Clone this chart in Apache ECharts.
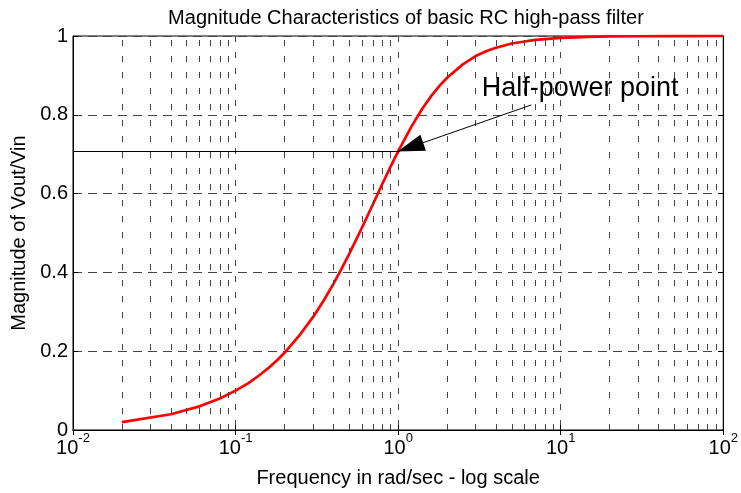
<!DOCTYPE html>
<html><head><meta charset="utf-8">
<script src="https://cdn.jsdelivr.net/npm/echarts@6/dist/echarts.min.js"></script>
<style>html,body{margin:0;padding:0;background:#fff}#c{width:741px;height:493px}</style>
</head><body><div id="c"></div>
<script>
// ---- data ----
const freq = [0.02,0.04,0.06,0.08,0.1,0.12,0.14,0.16,0.18,0.2,0.25,0.3,0.35,0.4,0.45,0.5,0.6,0.7,0.8,0.9,1,1.2,1.4,1.6,1.8,2,2.5,3,3.5,4,5,6,7,8,10,15,20,30,50,100];
const magnitude = [0.020,0.040,0.060,0.080,0.100,0.119,0.139,0.158,0.177,0.196,0.243,0.287,0.330,0.371,0.410,0.447,0.514,0.573,0.625,0.669,0.707,0.768,0.814,0.848,0.874,0.894,0.928,0.949,0.962,0.970,0.981,0.986,0.990,0.992,0.995,0.998,0.999,0.9994,0.9998,1.0];
const minorGridX = [0.02,0.03,0.04,0.05,0.06,0.07,0.08,0.09,0.2,0.3,0.4,0.5,0.6,0.7,0.8,0.9,2,3,4,5,6,7,8,9,20,30,40,50,60,70,80,90];
const halfPowerPoint = [1, 0.7071];
const arrowStart = [6.6, 0.825];
const annotationAnchor = [3.25, 0.866];
const annotationText = 'Half-power point';
const titleText = 'Magnitude Characteristics of basic RC high-pass filter';
const xName = 'Frequency in rad/sec - log scale';
const yName = 'Magnitude of Vout/Vin';

const FONT = "'Liberation Sans', Arial, Helvetica, sans-serif";
const chart = echarts.init(document.getElementById('c'), null, {renderer: 'canvas'});
const vDash = {type: [6, 10], color: '#444', width: 1};
const hDash = {type: [9, 6], color: '#444', width: 1};

const option = {
  animation: false,
  backgroundColor: '#fff',
  title: {
    text: titleText, left: 401, top: 3, textAlign: 'center',
    textStyle: {fontSize: 20, fontWeight: 'normal', color: '#000', fontFamily: FONT}
  },
  grid: {left: 73, right: 12, top: 36, bottom: 61, show: true, borderColor: '#000', borderWidth: 1, backgroundColor: '#fff'},
  xAxis: [{
    type: 'log', logBase: 10, min: 0.01, max: 100,
    name: xName, nameLocation: 'middle', nameGap: 38,
    nameTextStyle: {fontSize: 20, color: '#000', fontFamily: FONT},
    axisLine: {show: true, lineStyle: {color: '#000', width: 1}},
    axisTick: {show: true, inside: true, length: 5, lineStyle: {color: '#000'}},
    splitLine: {show: true, lineStyle: vDash},
    axisLabel: {
      margin: 4, color: '#000', fontFamily: FONT,
      formatter: function (v) { const e = Math.round(Math.log10(v)); return '{b|10}{s|' + e + '}'; },
      rich: {
        b: {fontSize: 20, lineHeight: 20, padding: [9, 0, 0, 0], fontFamily: FONT, color: '#000'},
        s: {fontSize: 13, lineHeight: 13, padding: [2, 0, 14, 0], fontFamily: FONT, color: '#000'}
      }
    }
  }, {
    type: 'log', logBase: 10, min: 0.01, max: 100, position: 'top',
    axisLine: {show: true, lineStyle: {color: '#000'}},
    axisTick: {show: true, inside: true, length: 5, lineStyle: {color: '#000'}},
    axisLabel: {show: false}, splitLine: {show: false}
  }],
  yAxis: [{
    type: 'value', min: 0, max: 1, interval: 0.2,
    name: yName, nameLocation: 'middle', nameGap: 41,
    nameTextStyle: {fontSize: 20, color: '#000', fontFamily: FONT},
    axisLine: {show: true, lineStyle: {color: '#000', width: 1}},
    axisTick: {show: true, inside: true, length: 5, lineStyle: {color: '#000'}},
    splitLine: {show: true, lineStyle: hDash},
    axisLabel: {margin: 5, fontSize: 20, color: '#000', fontFamily: FONT}
  }, {
    type: 'value', min: 0, max: 1, interval: 0.2, position: 'right',
    axisLine: {show: true, lineStyle: {color: '#000'}},
    axisTick: {show: true, inside: true, length: 5, lineStyle: {color: '#000'}},
    axisLabel: {show: false}, splitLine: {show: false}
  }],
  series: [
    {
      name: 'grid', type: 'line', z: 1, data: [], silent: true,
      markLine: {
        silent: true, symbol: ['none', 'none'], label: {show: false},
        lineStyle: vDash, animation: false,
        data: minorGridX.map(v => ({xAxis: v}))
      }
    },
    {
      name: 'magnitude', type: 'line', z: 3, clip: false, symbol: 'none', showSymbol: false,
      lineStyle: {color: '#ff0000', width: 2.7}, itemStyle: {color: '#ff0000'},
      data: freq.map((f, i) => [f, magnitude[i]])
    },
    {
      name: 'annotation', type: 'line', z: 4, data: [], silent: true,
      markLine: {
        silent: true, symbol: ['none', 'none'], label: {show: false}, animation: false,
        lineStyle: {color: '#000', width: 1, type: 'solid'},
        data: [
          [{coord: [0.01, halfPowerPoint[1]]}, {coord: halfPowerPoint}],
          [{coord: arrowStart}, {coord: halfPowerPoint, symbol: 'triangle', symbolSize: [17, 27], symbolOffset: [0, 13]}]
        ]
      },
      markPoint: {
        silent: true, animation: false,
        data: [{
          coord: annotationAnchor, symbol: 'circle', symbolSize: 1,
          itemStyle: {color: 'rgba(0,0,0,0)'},
          label: {show: true, position: 'right', distance: 0, formatter: annotationText,
                  fontSize: 27, color: '#000', fontFamily: FONT}
        }]
      }
    }
  ]
};
chart.setOption(option);
</script></body></html>
